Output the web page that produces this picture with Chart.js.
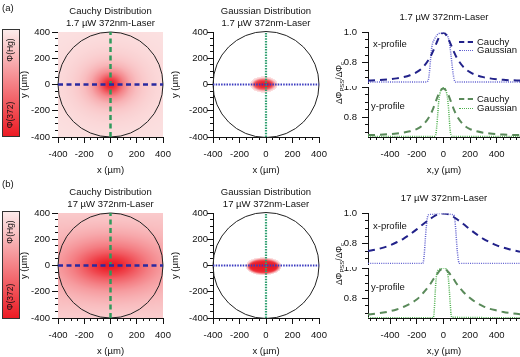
<!DOCTYPE html>
<html>
<head>
<meta charset="utf-8">
<title>Cauchy vs Gaussian profiles</title>
<script src="https://cdn.jsdelivr.net/npm/chart.js@4.4.1/dist/chart.umd.min.js"></script>
<style>
  html, body { margin: 0; padding: 0; background: #fff; }
  #fig { position: relative; width: 520px; height: 357px; overflow: hidden;
         font-family: 'Liberation Sans', Arial, Helvetica, sans-serif; color: #111; }
  #fig canvas { position: absolute; }
  .lbl { position: absolute; z-index: 2; font-size: 9.5px; line-height: 1; white-space: nowrap; transform: translateY(-50%); }
  .rot { position: absolute; z-index: 2; white-space: nowrap; line-height: 1; transform: translate(-50%, -50%) rotate(-90deg); }
  .rot sub { font-size: 70%; vertical-align: -2px; }
  .cbar { position: absolute; left: 2px; width: 16px; height: 106px; border: 1px solid #333;
          background: linear-gradient(to bottom, #fcebeb, #ec1b24); }
  .smp { position: absolute; z-index: 2; width: 14px; height: 0; }
</style>
</head>
<body>
<div id="fig">
  <div class="lbl" style="left:2px;top:8px">(a)</div>
  <div class="lbl" style="left:2px;top:184px">(b)</div>

  <!-- colour scale -->
  <div class="cbar" style="top:29px"></div>
  <div class="rot" style="left:10px;top:50px;font-size:8.5px">Φ(Hg)</div>
  <div class="rot" style="left:10px;top:115px;font-size:8.5px">Φ(372)</div>
  <div class="cbar" style="top:211px"></div>
  <div class="rot" style="left:10px;top:232px;font-size:8.5px">Φ(Hg)</div>
  <div class="rot" style="left:10px;top:297px;font-size:8.5px">Φ(372)</div>

  <!-- profile panels: shared y title, cut names, legend -->
  <div class="rot" style="left:340px;top:83px;font-size:8.5px">ΔΦ<sub>PSS</sub>/ΔΦ<sub>c</sub></div>
  <div class="rot" style="left:340px;top:264px;font-size:8.5px">ΔΦ<sub>PSS</sub>/ΔΦ<sub>c</sub></div>
  <div class="lbl" style="left:373px;top:44px">x-profile</div>
  <div class="lbl" style="left:371px;top:106px">y-profile</div>
  <div class="lbl" style="left:373px;top:226px">x-profile</div>
  <div class="lbl" style="left:371px;top:287px">y-profile</div>

  <div class="smp" style="left:459px;top:41px;border-top:2px dashed #22228a"></div>
  <div class="lbl" style="left:477px;top:42px">Cauchy</div>
  <div class="smp" style="left:459px;top:49.5px;border-top:1.5px dotted #6060d0"></div>
  <div class="lbl" style="left:477px;top:50px">Gaussian</div>
  <div class="smp" style="left:459px;top:98px;border-top:2px dashed #5a8a5a"></div>
  <div class="lbl" style="left:477px;top:99px">Cauchy</div>
  <div class="smp" style="left:459px;top:107.5px;border-top:1.5px dotted #4cb04c"></div>
  <div class="lbl" style="left:477px;top:108px">Gaussian</div>
</div>

<script>
// ---------- values (µm, normalised ΔΦ) ----------
// the Cauchy cuts were read at the same positions for both powers
const CAUCHY_POS = [-565, -500, -450, -400, -350, -300, -250, -200, -150, -100, -75, -50, -25, 0,
                    25, 50, 75, 100, 150, 200, 250, 300, 350, 400, 450, 500, 575];

// (a) 1.7 µW
const A_X_CAUCHY = [0.683, 0.6855, 0.688, 0.692, 0.6975, 0.7055, 0.718, 0.738, 0.773, 0.835, 0.881, 0.933, 0.979, 0.998,
                    0.979, 0.933, 0.881, 0.835, 0.773, 0.738, 0.718, 0.7055, 0.6975, 0.692, 0.688, 0.6855, 0.683];
const A_Y_CAUCHY = [0.680, 0.681, 0.683, 0.686, 0.690, 0.696, 0.705, 0.720, 0.750, 0.810, 0.860, 0.920, 0.970, 0.990,
                    0.970, 0.920, 0.860, 0.810, 0.750, 0.720, 0.705, 0.696, 0.690, 0.686, 0.683, 0.681, 0.680];
const A_X_GAUSS_POS = [-565, -130, -120, -112, -105, -98, -90, -80, -70, -50, -25, 0, 20, 35, 45, 55, 65, 75, 85, 95, 575];
const A_X_GAUSS     = [0.673, 0.673, 0.676, 0.69, 0.73, 0.80, 0.88, 0.93, 0.95, 0.98, 0.997, 1.0, 0.99, 0.97, 0.935, 0.87, 0.79, 0.72, 0.68, 0.673, 0.673];
const A_Y_GAUSS_POS = [-565, -70, -58, -50, -42, -35, -25, -12, 0, 12, 25, 35, 43, 50, 58, 70, 575];
const A_Y_GAUSS     = [0.671, 0.671, 0.68, 0.73, 0.82, 0.90, 0.96, 0.99, 0.995, 0.99, 0.96, 0.90, 0.81, 0.72, 0.68, 0.671, 0.671];

// (b) 17 µW
const B_X_CAUCHY = [0.752, 0.763, 0.775, 0.790, 0.810, 0.833, 0.862, 0.895, 0.930, 0.963, 0.978, 0.990, 0.998, 1.000,
                    0.998, 0.990, 0.978, 0.963, 0.930, 0.895, 0.862, 0.833, 0.810, 0.790, 0.775, 0.763, 0.748];
const B_Y_CAUCHY = [0.690, 0.697, 0.703, 0.712, 0.724, 0.740, 0.762, 0.790, 0.835, 0.890, 0.925, 0.955, 0.985, 0.997,
                    0.985, 0.960, 0.930, 0.895, 0.840, 0.800, 0.768, 0.745, 0.728, 0.717, 0.707, 0.700, 0.692];
const B_X_GAUSS_POS = [-565, -155, -150, -143, -136, -128, -120, -112, -80, -40, 0, 40, 65, 78, 86, 94, 102, 110, 117, 125, 575];
const B_X_GAUSS     = [0.67, 0.67, 0.68, 0.73, 0.82, 0.91, 0.97, 0.99, 0.995, 1.0, 1.0, 0.998, 0.993, 0.99, 0.96, 0.88, 0.78, 0.71, 0.675, 0.67, 0.67];
const B_Y_GAUSS_POS = [-565, -80, -72, -66, -60, -54, -45, -30, 0, 20, 30, 38, 45, 52, 58, 64, 575];
const B_Y_GAUSS     = [0.669, 0.669, 0.68, 0.75, 0.85, 0.93, 0.975, 0.99, 1.0, 0.995, 0.98, 0.93, 0.85, 0.76, 0.69, 0.672, 0.669];

// axes
const MAP_RANGE = [-400, 400];
const MAP_TICK_LABELS = [-400, -200, 0, 200, 400];
const PROFILE_RANGE = [-565, 575];
const PROFILE_X_LABELS = [-400, -200, 0, 200, 400];
const PROFILE_Y_MIN = 0.667;
const PROFILE_Y_TICKS = [0.7, 0.75, 0.8, 0.85, 0.9, 0.95, 1.0];
const PROFILE_Y_LABELS = [0.8, 1.0];
const CUT_SPAN = [-400, 400];   // the two cut lines across each map
const APERTURE_R = 400;         // cell window

const MAP_TICKS = [];
for (let v = MAP_RANGE[0]; v <= MAP_RANGE[1]; v += 50) MAP_TICKS.push(v);
const PROFILE_X_TICKS = [];
for (let v = -550; v <= 550; v += 50) PROFILE_X_TICKS.push(v);

// ---------- styling ----------
const INK = '#111';
const MINOR_LEN = 3, MAJOR_LEN = 6;
const HEAT_LOW = [252, 233, 233], HEAT_HIGH = [236, 24, 34];
Chart.defaults.font.family = "'Liberation Sans', Arial, Helvetica, sans-serif";
Chart.defaults.font.size = 9.5;
Chart.defaults.color = INK;

const fig = document.getElementById('fig');
let nCanvas = 0;
function makeCanvas(left, top, w, h) {
    const cv = document.createElement('canvas');
    cv.id = 'cv' + (nCanvas++);
    cv.width = w; cv.height = h;
    cv.style.left = left + 'px'; cv.style.top = top + 'px';
    fig.insertBefore(cv, fig.firstChild);
    return cv;
}

function interp(xs, ys, v) {
    if (v <= xs[0]) return ys[0];
    for (let k = 1; k < xs.length; k++) {
        if (v <= xs[k]) {
            const f = (v - xs[k - 1]) / (xs[k] - xs[k - 1]);
            return ys[k - 1] + f * (ys[k] - ys[k - 1]);
        }
    }
    return ys[ys.length - 1];
}
const norm = v => Math.max(0, (v - PROFILE_Y_MIN) / (1 - PROFILE_Y_MIN));

// centre and half width (at half height) of a cut
function halfWidth(pos, val) {
    let iMax = 0;
    val.forEach((v, i) => { if (v > val[iMax]) iMax = i; });
    const half = norm(val[iMax]) / 2;
    let left = pos[0], right = pos[pos.length - 1];
    for (let i = iMax; i < pos.length - 1; i++) {
        const a = norm(val[i]), b = norm(val[i + 1]);
        if (b <= half) { right = pos[i] + (a - half) / (a - b) * (pos[i + 1] - pos[i]); break; }
    }
    for (let i = iMax; i > 0; i--) {
        const a = norm(val[i]), b = norm(val[i - 1]);
        if (b <= half) { left = pos[i] - (a - half) / (a - b) * (pos[i] - pos[i - 1]); break; }
    }
    return { c: (left + right) / 2, h: (right - left) / 2 };
}

// map background built from the two cuts (elliptic blend), plus the aperture circle
const HEAT = {};
const heatmapPlugin = {
    id: 'heatmap',
    beforeDatasetsDraw(chart) {
        const h = HEAT[chart.canvas.id];
        if (!h) return;
        const { ctx, chartArea: a, scales: { x, y } } = chart;
        const w = Math.round(a.right - a.left), ht = Math.round(a.bottom - a.top);
        const off = document.createElement('canvas');
        off.width = w; off.height = ht;
        const octx = off.getContext('2d');
        const img = octx.createImageData(w, ht);
        const hx = halfWidth(h.xPos, h.xVal), hy = halfWidth(h.yPos, h.yVal);
        for (let j = 0; j < ht; j++) {
            const dy = (y.getValueForPixel(a.top + j + 0.5) - hy.c) / hy.h;
            for (let i = 0; i < w; i++) {
                const dx = (x.getValueForPixel(a.left + i + 0.5) - hx.c) / hx.h;
                const r = Math.hypot(dx, dy);
                const tx = norm(interp(h.xPos, h.xVal, hx.c + Math.sign(dx) * r * hx.h));
                const ty = norm(interp(h.yPos, h.yVal, hy.c + Math.sign(dy) * r * hy.h));
                const wx = r > 0 ? (dx * dx) / (r * r) : 0.5;
                const t = Math.min(1, wx * tx + (1 - wx) * ty);
                if (h.clip && t < 0.03) continue;
                const k = (j * w + i) * 4;
                for (let c = 0; c < 3; c++) img.data[k + c] = HEAT_LOW[c] + t * (HEAT_HIGH[c] - HEAT_LOW[c]);
                img.data[k + 3] = 255;
            }
        }
        octx.putImageData(img, 0, 0);
        ctx.drawImage(off, a.left, a.top);

        const cx = x.getPixelForValue(0), cy = y.getPixelForValue(0);
        const rr = x.getPixelForValue(APERTURE_R) - cx;
        ctx.save();
        ctx.beginPath();
        ctx.arc(cx, cy, rr, 0, 2 * Math.PI);
        ctx.strokeStyle = '#222';
        ctx.lineWidth = 1;
        ctx.stroke();
        ctx.restore();
    }
};

// labelled ticks are drawn longer than the minor ones
const majorTickPlugin = {
    id: 'majorTicks',
    afterDraw(chart) {
        const ctx = chart.ctx;
        ctx.save();
        ctx.strokeStyle = INK;
        ctx.lineWidth = 1;
        Object.values(chart.scales).forEach(s => {
            if (!s.options.display) return;
            s.ticks.forEach((t, i) => {
                if (t.label === '' || t.label == null) return;
                const p = Math.round(s.getPixelForTick(i) - 0.5) + 0.5;
                ctx.beginPath();
                if (s.isHorizontal()) { ctx.moveTo(p, s.top); ctx.lineTo(p, s.top + MAJOR_LEN); }
                else { ctx.moveTo(s.right, p); ctx.lineTo(s.right - MAJOR_LEN, p); }
                ctx.stroke();
            });
        });
        ctx.restore();
    }
};

function mapAxis(title, tickPad, fit) {
    return {
        type: 'linear', min: MAP_RANGE[0], max: MAP_RANGE[1],
        afterBuildTicks: s => { s.ticks = MAP_TICKS.map(v => ({ value: v })); },
        ticks: { autoSkip: false, maxRotation: 0, padding: tickPad,
                 callback: v => MAP_TICK_LABELS.includes(v) ? String(v) : '' },
        grid: { drawOnChartArea: false, tickLength: MINOR_LEN, color: INK },
        border: { color: INK },
        title: { display: true, text: title, padding: 0, font: { size: 9.5, lineHeight: 1.2 } },
        afterFit: fit
    };
}

function mapChart(o) {
    const cv = makeCanvas(o.left, o.top, o.width, 176);
    HEAT[cv.id] = o.heat;
    return new Chart(cv, {
        type: 'scatter',
        data: {
            datasets: [
                { data: CUT_SPAN.map(v => ({ x: v, y: 0 })), borderColor: o.blue, borderWidth: o.lw,
                  borderDash: o.dash, showLine: true, pointRadius: 0 },
                { data: CUT_SPAN.map(v => ({ x: 0, y: v })), borderColor: o.green, borderWidth: o.lw,
                  borderDash: o.dash, showLine: true, pointRadius: 0 }
            ]
        },
        options: {
            responsive: false, animation: false, devicePixelRatio: 1,
            layout: { padding: { left: 0, right: 9, top: 0, bottom: 0 } },
            plugins: {
                legend: { display: false }, tooltip: { enabled: false },
                title: { display: true, text: o.title, fullSize: false, color: INK,
                         font: { size: 9.5, weight: 'normal', lineHeight: 1.2 },
                         padding: { top: 6, bottom: 3.2 } }
            },
            scales: {
                x: mapAxis('x (µm)', 8.5, s => { s.height = 39; s.paddingLeft = 0; s.paddingRight = 0; }),
                y: mapAxis('y (µm)', o.yPad, s => { s.width = o.yAxisW; s.paddingTop = 0; s.paddingBottom = 0; })
            }
        },
        plugins: [heatmapPlugin, majorTickPlugin]
    });
}

function profileChart(o) {
    const cv = makeCanvas(340, o.top, 180, o.height);
    return new Chart(cv, {
        type: 'scatter',
        data: {
            datasets: o.series.map(s => ({
                data: s.pos.map((p, i) => ({ x: p, y: s.val[i] })),
                borderColor: s.color, borderWidth: s.width, borderDash: s.dash,
                showLine: true, pointRadius: 0, cubicInterpolationMode: 'monotone'
            }))
        },
        options: {
            responsive: false, animation: false, devicePixelRatio: 1,
            layout: { padding: o.pad },
            plugins: {
                legend: { display: false }, tooltip: { enabled: false },
                title: { display: !!o.title, text: o.title || '', fullSize: false, color: INK,
                         font: { size: 9.5, weight: 'normal', lineHeight: 1.2 },
                         padding: { top: 12, bottom: 9 } }
            },
            scales: {
                x: {
                    type: 'linear', min: PROFILE_RANGE[0], max: PROFILE_RANGE[1], display: o.showX,
                    afterBuildTicks: s => { s.ticks = PROFILE_X_TICKS.map(v => ({ value: v })); },
                    ticks: { autoSkip: false, maxRotation: 0, padding: 8.5,
                             callback: v => PROFILE_X_LABELS.includes(v) ? String(v) : '' },
                    grid: { drawOnChartArea: false, tickLength: MINOR_LEN, color: INK },
                    border: { color: INK },
                    title: { display: true, text: 'x,y (µm)', padding: 0, font: { size: 9.5, lineHeight: 1.2 } },
                    afterFit: s => { s.height = o.showX ? 39 : 0; s.paddingLeft = 0; s.paddingRight = 0; }
                },
                y: {
                    type: 'linear', min: PROFILE_Y_MIN, max: 1.0,
                    afterBuildTicks: s => { s.ticks = PROFILE_Y_TICKS.map(v => ({ value: v })); },
                    ticks: { autoSkip: false, padding: 8,
                             callback: v => PROFILE_Y_LABELS.some(l => Math.abs(l - v) < 1e-6) ? v.toFixed(1) : '' },
                    grid: { drawOnChartArea: false, tickLength: MINOR_LEN, color: INK },
                    border: { color: INK },
                    afterFit: s => { s.width = 28; s.paddingTop = 0; s.paddingBottom = 0; }
                }
            }
        },
        plugins: [majorTickPlugin]
    });
}

// ---------- panels ----------
const ROWS = [
    { top: 0, power: '1.7 µW 372nm-Laser',
      xc: A_X_CAUCHY, yc: A_Y_CAUCHY, xgP: A_X_GAUSS_POS, xg: A_X_GAUSS, ygP: A_Y_GAUSS_POS, yg: A_Y_GAUSS },
    { top: 181, power: '17 µW 372nm-Laser',
      xc: B_X_CAUCHY, yc: B_Y_CAUCHY, xgP: B_X_GAUSS_POS, xg: B_X_GAUSS, ygP: B_Y_GAUSS_POS, yg: B_Y_GAUSS }
];

ROWS.forEach(r => {
    mapChart({
        left: 19, top: r.top, width: 153, yAxisW: 39, yPad: 5,
        title: ['Cauchy Distribution', r.power],
        heat: { xPos: CAUCHY_POS, xVal: r.xc, yPos: CAUCHY_POS, yVal: r.yc, clip: false },
        blue: '#2a2aa0', green: '#2f9a5c', lw: 2.5, dash: [5, 3.5]
    });
    mapChart({
        left: 170, top: r.top, width: 158, yAxisW: 43, yPad: 2,
        title: ['Gaussian Distribution', r.power],
        heat: { xPos: r.xgP, xVal: r.xg, yPos: r.ygP, yVal: r.yg, clip: true },
        blue: '#3a3ac0', green: '#2fa070', lw: 2.2, dash: [1.5, 1.2]
    });
    profileChart({
        top: r.top, height: 86, showX: false, title: r.power,
        pad: { left: 0, right: 0, top: 0, bottom: 3 },
        series: [
            { pos: CAUCHY_POS, val: r.xc, color: '#22228a', width: 2, dash: [7, 5] },
            { pos: r.xgP, val: r.xg, color: '#6060d0', width: 1.5, dash: [1, 1.2] }
        ]
    });
    profileChart({
        top: r.top + 86, height: 90, showX: true,
        pad: { left: 0, right: 0, top: 1, bottom: 0 },
        series: [
            { pos: CAUCHY_POS, val: r.yc, color: '#5a8a5a', width: 2, dash: [7, 5] },
            { pos: r.ygP, val: r.yg, color: '#4cb04c', width: 1.5, dash: [1, 1.2] }
        ]
    });
});
</script>
</body>
</html>
